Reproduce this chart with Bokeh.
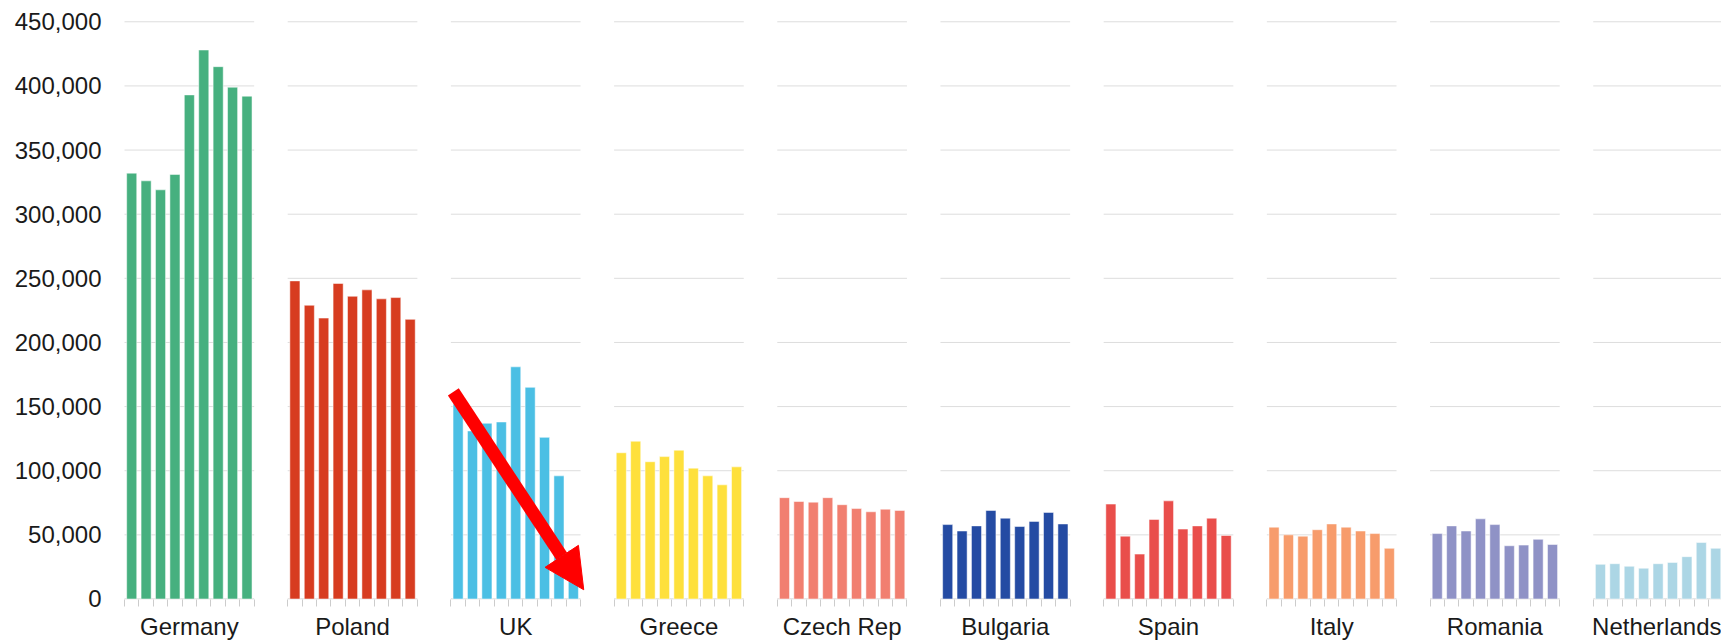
from bokeh.plotting import figure
from bokeh.models import FixedTicker, NumeralTickFormatter, Range1d, Arrow, NormalHead, ColumnDataSource
from bokeh.embed import file_html
from bokeh.resources import INLINE

countries = ["Germany", "Poland", "UK", "Greece", "Czech Rep", "Bulgaria",
             "Spain", "Italy", "Romania", "Netherlands"]
germany = [332000, 326000, 319000, 331000, 393000, 428000, 415000, 399000, 392000]
poland = [248000, 229000, 219000, 246000, 236000, 241000, 234000, 235000, 218000]
uk = [152000, 131000, 137000, 138000, 181000, 165000, 126000, 96000, 38000]
greece = [114000, 123000, 107000, 111000, 116000, 102000, 96000, 89000, 103000]
czech = [79000, 76000, 75500, 79000, 73500, 70500, 68000, 70000, 69000]
bulgaria = [58000, 53000, 57000, 69000, 63000, 56500, 60500, 67500, 58500]
spain = [74000, 49000, 35000, 62000, 76500, 54500, 57000, 63000, 49500]
italy = [56000, 50000, 49000, 54000, 58500, 56000, 53000, 51000, 39500]
romania = [51000, 57000, 53000, 62500, 58000, 41500, 42000, 46500, 42500]
netherlands = [27000, 27500, 25500, 24000, 27500, 28500, 33000, 44000, 39500]
series = [germany, poland, uk, greece, czech, bulgaria, spain, italy, romania, netherlands]
colors = ["#46b07f", "#d73c20", "#4bbfe4", "#fee03c", "#f17f70", "#244ba3",
          "#e94e4b", "#f79c6c", "#8f92c6", "#acd6e5"]
y_ticks = [0, 50000, 100000, 150000, 200000, 250000, 300000, 350000, 400000, 450000]

# trend arrow on the UK panel (relative slot offset, value)
arrow_panel = 2
arrow_from = (0.17, 161500)
arrow_to = (9.22, 7200)

N = 9
PITCH = 11.325
BAR_W = 0.70

xs, tops, cols = [], [], []
for i, vals in enumerate(series):
    start = i * PITCH
    for j, v in enumerate(vals):
        xs.append(start + j + 0.5)
        tops.append(v)
        cols.append(colors[i])
src = ColumnDataSource(dict(x=xs, top=tops, color=cols))

p = figure(width=1721, height=642, output_backend="svg", toolbar_location=None,
           x_range=Range1d(-0.694, -0.694 + 1607 / 14.41),
           y_range=Range1d(-400, 466600),
           min_border_left=114, min_border_right=0, min_border_top=0, min_border_bottom=43)
p.outline_line_color = None
p.xgrid.visible = False
p.ygrid.visible = False
p.background_fill_color = "white"
p.border_fill_color = "white"

# per-panel gridlines and baselines
gx0, gx1, gy, gc = [], [], [], []
for i in range(len(series)):
    s = i * PITCH
    for t in y_ticks:
        gx0.append(s)
        gx1.append(s + N)
        gy.append(t)
        gc.append("#cccccc" if t == 0 else "#dddddd")
p.segment(x0=gx0, y0=gy, x1=gx1, y1=gy, line_color=gc, line_width=1)

p.vbar(x="x", top="top", bottom=0, width=BAR_W, fill_color="color",
       line_color="white", line_alpha=0.5, line_width=1, source=src)

a_start = arrow_panel * PITCH
p.add_layout(Arrow(end=NormalHead(size=40, fill_color="red", line_color="red", line_width=1),
                   x_start=a_start + arrow_from[0], y_start=arrow_from[1],
                   x_end=a_start + arrow_to[0], y_end=arrow_to[1],
                   line_color="red", line_width=13))

# y axis
p.yaxis.ticker = FixedTicker(ticks=y_ticks)
p.yaxis.formatter = NumeralTickFormatter(format="0,0")
p.yaxis.axis_line_color = None
p.yaxis.major_tick_out = 0
p.yaxis.major_tick_in = 0
p.yaxis.minor_tick_out = 0
p.yaxis.minor_tick_in = 0
p.yaxis.major_tick_line_color = None
p.yaxis.minor_tick_line_color = None
p.yaxis.major_label_standoff = 13
p.yaxis.major_label_text_font = "Liberation Sans"
p.yaxis.major_label_text_font_size = "24px"
p.yaxis.major_label_text_color = "#1a1a1a"

# x axis: names at panel centres, small ticks at slot boundaries
centers = [i * PITCH + N / 2 for i in range(len(series))]
bounds = [i * PITCH + k for i in range(len(series)) for k in range(N + 1)]
p.xaxis.ticker = FixedTicker(ticks=centers, minor_ticks=bounds)
p.xaxis.major_label_overrides = {c: name for c, name in zip(centers, countries)}
p.xaxis.axis_line_color = None
p.xaxis.major_tick_out = 0
p.xaxis.major_tick_in = 0
p.xaxis.major_tick_line_color = None
p.xaxis.minor_tick_out = 7
p.xaxis.minor_tick_in = 0
p.xaxis.minor_tick_line_color = "#cccccc"
p.xaxis.major_label_standoff = 6
p.xaxis.major_label_text_font = "Liberation Sans"
p.xaxis.major_label_text_font_size = "24px"
p.xaxis.major_label_text_color = "#1a1a1a"

open("out.html", "w").write(file_html(p, INLINE))
